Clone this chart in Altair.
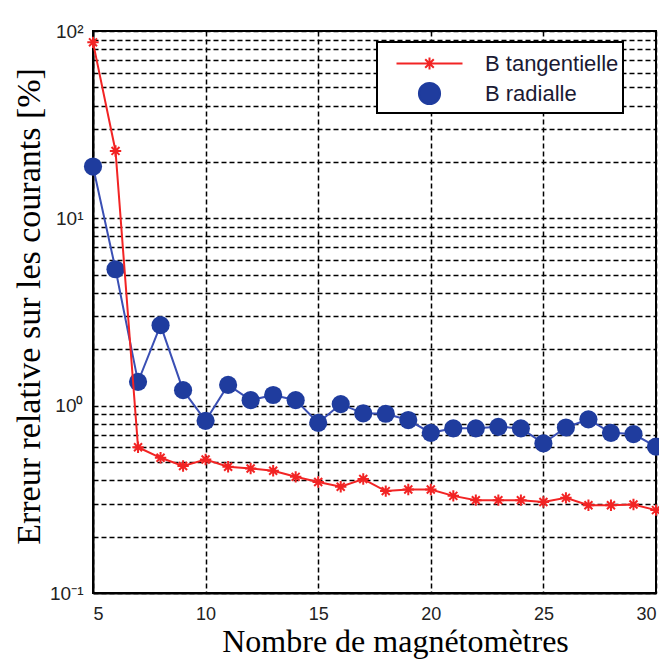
import altair as alt
import pandas as pd

# ---- data ----
n_magnetometres = list(range(5, 31))
b_tangentielle = [87, 22.9, 0.60, 0.527, 0.476, 0.516, 0.472, 0.462, 0.449, 0.417,
                  0.391, 0.369, 0.406, 0.35, 0.357, 0.357, 0.330, 0.313, 0.313, 0.313,
                  0.306, 0.322, 0.294, 0.294, 0.297, 0.277]
b_radialle = [18.9, 5.35, 1.34, 2.69, 1.21, 0.83, 1.29, 1.07, 1.14, 1.07,
              0.81, 1.02, 0.91, 0.905, 0.838, 0.716, 0.757, 0.757, 0.771, 0.757,
              0.629, 0.765, 0.845, 0.716, 0.705, 0.604]
series_names = ["B tangentielle", "B radialle"]
x_ticks = [5, 10, 15, 20, 25, 30]
y_grid = [0.1, 0.2, 0.3, 0.4, 0.5, 0.6, 0.7, 0.8, 0.9,
          1, 2, 3, 4, 5, 6, 7, 8, 9,
          10, 20, 30, 40, 50, 60, 70, 80, 90, 100]
y_labels = {100: "10²", 10: "10¹", 1: "10⁰", 0.1: "10⁻¹"}

RED = "#f22424"
BLUE = "#1f3c9e"
BLUE_LINE = "#3a4fb4"

df = pd.DataFrame({
    "n": n_magnetometres * 2,
    "err": b_tangentielle + b_radialle,
    "series": [series_names[0]] * len(n_magnetometres) + [series_names[1]] * len(n_magnetometres),
})

label_expr = " : ".join(
    f"datum.value == {k} ? '{v}'" for k, v in y_labels.items()
) + " : ''"

x_enc = alt.X(
    "n:Q",
    scale=alt.Scale(domain=[5, 30], nice=False, zero=False),
    axis=alt.Axis(values=x_ticks, title="Nombre de magnétomètres", grid=True,
                  labelPadding=12, labelFontSize=18, titleX=302, titleY=58,
                  titleAlign="center", titleBaseline="alphabetic", titleFontSize=32),
)
y_enc = alt.Y(
    "err:Q",
    scale=alt.Scale(type="log", domain=[0.1, 100], nice=False),
    axis=alt.Axis(values=y_grid, labelExpr=label_expr, labelOverlap=False,
                  title="Erreur relative sur les courants [%]", grid=True,
                  labelPadding=10, titleFontSize=34, titleX=-54, titleY=275,
                  titleAngle=270, titleAlign="center", titleBaseline="alphabetic"),
)

STAR = "M-1,0L1,0M0,-1L0,1M-0.7,-0.7L0.7,0.7M-0.7,0.7L0.7,-0.7"
LEGEND_STAR = "M-2,0L2,0M0,-0.36L0,0.36M-0.26,-0.26L0.26,0.26M-0.26,0.26L0.26,-0.26"
LEGEND_DOT = "M-0.64,0A0.64,0.64,0,1,1,0.64,0A0.64,0.64,0,1,1,-0.64,0Z"

legend = alt.Legend(
    title=None, orient="none", legendX=284, legendY=11,
    padding=4, symbolSize=1089, symbolOffset=31, labelOffset=38,
    rowPadding=1, labelFont="Liberation Sans", labelFontSize=22, labelColor="#1a1a33",
    labelExpr="datum.label + '         '",
    fillColor="white", strokeColor="black", symbolOpacity=1, symbolStrokeWidth=2,
)

base = alt.Chart(df).encode(x=x_enc, y=y_enc)
tang = base.transform_filter(alt.datum.series == series_names[0])
rad = base.transform_filter(alt.datum.series == series_names[1])

line_t = tang.mark_line(color=RED, strokeWidth=2)
line_r = rad.mark_line(color=BLUE_LINE, strokeWidth=2)
pts_r = rad.mark_circle(color=BLUE, size=330, opacity=1)
pts_t = tang.mark_point(shape=STAR, filled=False, color=RED, size=130, strokeWidth=2, opacity=1)

# legend-only layer (no rows drawn), its scales give the legend entries
leg = base.transform_filter("datum.n < 0").mark_point(filled=True, strokeWidth=2).encode(
    fill=alt.Fill("series:N", scale=alt.Scale(domain=series_names, range=["transparent", BLUE]), legend=legend),
    stroke=alt.Stroke("series:N", scale=alt.Scale(domain=series_names, range=[RED, BLUE]), legend=legend),
    shape=alt.Shape("series:N", scale=alt.Scale(domain=series_names, range=[LEGEND_STAR, LEGEND_DOT]), legend=legend),
)

chart = alt.layer(line_r, pts_r, line_t, pts_t, leg).properties(
    width=563, height=562,
    autosize=alt.AutoSizeParams(type="none"),
    padding={"left": 85, "top": 23, "right": 3, "bottom": 66},
).configure_view(
    stroke="black", strokeWidth=2
).configure_axis(
    domainColor="black", domainWidth=2, ticks=False,
    gridColor="black", gridDash=[5, 3], gridWidth=1.5, gridOpacity=1,
    labelFont="Liberation Sans", labelFontSize=19, labelColor="#222222",
    titleFont="Liberation Serif", titleFontWeight="normal", titleColor="black",
).configure_legend(strokeWidth=2)

chart.save("out.html", embed_options={"renderer": "svg", "actions": False})
